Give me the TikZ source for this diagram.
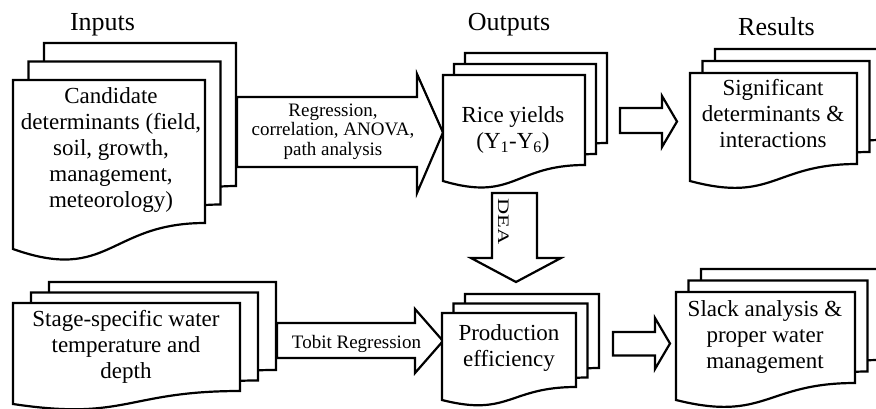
\documentclass[tikz,border=0pt]{standalone}
\usepackage{fontspec}
\setmainfont{Liberation Serif}
\tikzset{
  docline/.style={draw=black, line width=2.2pt, fill=white, line join=miter},
  blockarrow/.style={draw=black, line width=2.2pt, fill=white, line join=miter},
  doctext/.style={align=center, inner sep=0pt, font=\fontsize{23}{26}\selectfont},
  titletext/.style={inner sep=0pt, anchor=base, font=\fontsize{26}{30}\selectfont},
  arrowtext/.style={align=center, inner sep=0pt, font=\fontsize{19}{19.5}\selectfont},
}
% #1 x-left  #2 x-right  #3 y-top  #4 y right bottom  #5 y left bottom  #6 dx  #7 dy
\newcommand{\mdoc}[7]{%
  \foreach \k in {2,1,0}{%
    \path[docline] ({#1+\k*#6},{#3-\k*#7}) -- ({#2+\k*#6},{#3-\k*#7}) -- ({#2+\k*#6},{#4-\k*#7})
      .. controls ({(#1+#2)/2+\k*#6},{#4-\k*#7}) and ({(#1+#2)/2+\k*#6},{#4+2.316*(#5-#4)-\k*#7})
      .. ({#1+\k*#6},{#5-\k*#7}) -- cycle;
  }%
}
\begin{document}
\begin{tikzpicture}[x=1pt,y=-1pt]
\useasboundingbox (0,0) rectangle (876,408);
\fill[white] (0,0) rectangle (876,408);
\clip (0,0) rectangle (876,408);

% block arrows
\path[blockarrow] (237,97) -- (417,97) -- (417,74) -- (443,132.5) -- (417,193) -- (417,167) -- (237,167) -- cycle;
\path[blockarrow] (620,108) -- (662,108) -- (662,96) -- (677,121.5) -- (662,147) -- (662,133) -- (620,133) -- cycle;
\path[blockarrow] (492,193) -- (537,193) -- (537,258) -- (561,258) -- (516,282) -- (471,258) -- (492,258) -- cycle;
\path[blockarrow] (277,323) -- (415,323) -- (415,309) -- (443,341) -- (415,373) -- (415,358) -- (277,358) -- cycle;
\path[blockarrow] (613,332) -- (655,332) -- (655,318) -- (670,343.5) -- (655,369) -- (655,355.5) -- (613,355.5) -- cycle;

% multi-document shapes
\mdoc{13}{205}{80}{223}{249}{15.5}{18.5}
\mdoc{443}{585}{75}{165}{181}{11}{11}
\mdoc{690}{857}{73}{164}{181}{12.5}{12}
\mdoc{13}{240}{303}{391}{404}{18}{10.5}
\mdoc{442}{576}{313}{387}{400}{11.5}{9.5}
\mdoc{676}{855}{292}{383}{400}{12.5}{11.5}

% titles
\node[titletext] (tin) at (102.5,30) {Inputs};
\node[titletext] (tout) at (509,30) {Outputs};
\node[titletext] (tres) at (776.5,35) {Results};

% document texts
\node[doctext] (cand) at (111,150) {Candidate\\determinants (field,\\soil, growth,\\management,\\meteorology)};
\node[doctext] (rice) at (513,130) {Rice yields\\(Y\textsubscript{1}-Y\textsubscript{6})};
\node[doctext] (sig) at (773,114) {Significant\\determinants \&\\interactions};
\node[doctext] (stage) at (126,347) {Stage-specific water\\temperature and\\depth};
\node[doctext] (prod) at (509,348) {Production\\efficiency};
\node[doctext] (slack) at (765,336.5) {Slack analysis \&\\proper water\\management};

% arrow labels
\node[arrowtext] (reg) at (333,131.5) {Regression,\\correlation, ANOVA,\\path analysis};
\node[arrowtext, anchor=base] (tob) at (356.5,348) {Tobit Regression};
\node[inner sep=0pt, rotate=-90] (dea) at (503.5,221.5) {\scalebox{1.4}[1]{\fontsize{16}{16}\selectfont DEA}};
\end{tikzpicture}
\end{document}
